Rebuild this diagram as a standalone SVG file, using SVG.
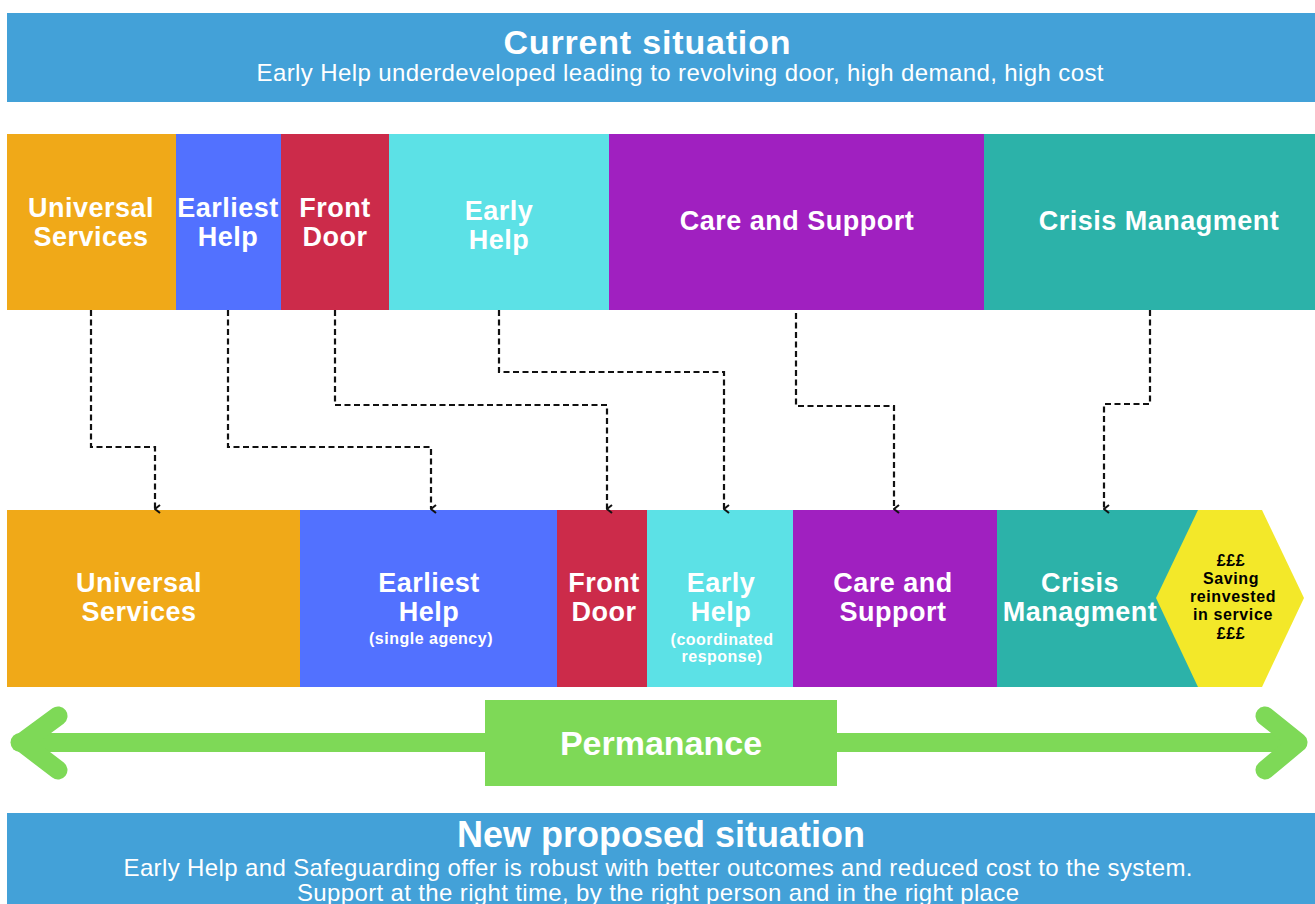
<svg xmlns="http://www.w3.org/2000/svg" width="1315" height="904" viewBox="0 0 1315 904">
<style>
text{font-family:"Liberation Sans",Arial,sans-serif;fill:#fff;text-anchor:middle}
.n{font-size:27px;font-weight:bold;letter-spacing:0.5px}
.s{font-size:16px;font-weight:bold;letter-spacing:0.5px}
.h{font-size:16px;font-weight:bold;fill:#000;letter-spacing:0.6px}
.t{font-size:36px;font-weight:bold}
.st{font-size:24px}
.c{fill:none;stroke:#111;stroke-width:2.2;stroke-dasharray:6 3.5}
.or{fill:#F0A918}.bl{fill:#5271FF}.rd{fill:#CC2B4A}.cy{fill:#5CE1E6}.pu{fill:#A020C0}.te{fill:#2CB2A9}
</style>
<defs>
<marker id="ah" viewBox="0 0 10 10" refX="5" refY="9" markerWidth="10" markerHeight="10" markerUnits="userSpaceOnUse" orient="auto-start-reverse">
<path d="M1,4 L5,9 L9,4" fill="none" stroke="#111" stroke-width="2"/>
</marker>
</defs>
<rect width="1315" height="904" fill="#fff"/>
<g id="header">
<rect x="7" y="13" width="1308" height="89" fill="#43A1D8"/>
<text class="t" x="647" y="54" style="font-size:34px" textLength="287" lengthAdjust="spacing">Current situation</text>
<text class="st" x="680" y="81" textLength="847" lengthAdjust="spacing">Early Help underdeveloped leading to revolving door, high demand, high cost</text>
</g>
<g id="cur-universal"><rect class="or" x="7" y="134" width="169" height="176"/><text class="n" x="91" y="217">Universal</text><text class="n" x="91" y="246">Services</text></g>
<g id="cur-earliest"><rect class="bl" x="176" y="134" width="105" height="176"/><text class="n" x="228" y="217">Earliest</text><text class="n" x="228" y="246">Help</text></g>
<g id="cur-front"><rect class="rd" x="281" y="134" width="108" height="176"/><text class="n" x="335" y="217">Front</text><text class="n" x="335" y="246">Door</text></g>
<g id="cur-early"><rect class="cy" x="389" y="134" width="220" height="176"/><text class="n" x="499" y="220">Early</text><text class="n" x="499" y="249">Help</text></g>
<g id="cur-care"><rect class="pu" x="609" y="134" width="375" height="176"/><text class="n" x="797" y="230">Care and Support</text></g>
<g id="cur-crisis"><rect class="te" x="984" y="134" width="331" height="176"/><text class="n" x="1159" y="230">Crisis Managment</text></g>

<g id="new-universal"><rect class="or" x="7" y="510" width="293" height="177"/><text class="n" x="139" y="592">Universal</text><text class="n" x="139" y="621">Services</text></g>
<g id="new-earliest"><rect class="bl" x="300" y="510" width="257" height="177"/><text class="n" x="429" y="592">Earliest</text><text class="n" x="429" y="621">Help</text><text class="s" x="431" y="644">(single agency)</text></g>
<g id="new-front"><rect class="rd" x="557" y="510" width="90" height="177"/><text class="n" x="604" y="592">Front</text><text class="n" x="604" y="621">Door</text></g>
<g id="new-early"><rect class="cy" x="647" y="510" width="146" height="177"/><text class="n" x="721" y="592">Early</text><text class="n" x="721" y="621">Help</text><text class="s" x="722" y="645">(coordinated</text><text class="s" x="722" y="662">response)</text></g>
<g id="new-care"><rect class="pu" x="793" y="510" width="204" height="177"/><text class="n" x="893" y="592">Care and</text><text class="n" x="893" y="621">Support</text></g>
<g id="new-crisis"><rect class="te" x="997" y="510" width="201" height="177"/><text class="n" x="1080" y="592">Crisis</text><text class="n" x="1080" y="621">Managment</text></g>
<g id="saving"><polygon points="1156,598 1198,510 1262,510 1304,598 1262,687 1198,687" fill="#F3E829"/>
<text class="h" x="1231" y="566">£££</text><text class="h" x="1231" y="584">Saving</text><text class="h" x="1233" y="602">reinvested</text><text class="h" x="1233" y="620">in service</text><text class="h" x="1231" y="639">£££</text></g>

<g id="connectors">
<path class="c" d="M91,310 V447 H155 V509" marker-end="url(#ah)"/>
<path class="c" d="M228,310 V447 H431 V509" marker-end="url(#ah)"/>
<path class="c" d="M335,310 V405 H607 V509" marker-end="url(#ah)"/>
<path class="c" d="M499,310 V372 H724 V509" marker-end="url(#ah)"/>
<path class="c" d="M796,313 V406 H894 V509" marker-end="url(#ah)"/>
<path class="c" d="M1150,310 V404 H1104 V509" marker-end="url(#ah)"/>
</g>

<g id="permanance">
<g fill="none" stroke="#7ED957" stroke-width="19" stroke-linecap="round" stroke-linejoin="round">
<line x1="20" y1="742.5" x2="1297" y2="742.5"/>
<polyline points="58,716 22,742.5 58,770"/>
<polyline points="1265,716 1298,742.5 1265,770"/>
</g>
<rect x="485" y="700" width="352" height="86" fill="#7ED957"/>
<text class="t" x="661" y="755" style="font-size:34px">Permanance</text>
</g>

<g id="footer">
<rect x="7" y="813" width="1308" height="91" fill="#43A1D8"/>
<text class="t" x="661" y="847">New proposed situation</text>
<text class="st" x="658" y="876" textLength="1069" lengthAdjust="spacing">Early Help and Safeguarding offer is robust with better outcomes and reduced cost to the system.</text>
<text class="st" x="658" y="901" textLength="722" lengthAdjust="spacing">Support at the right time, by the right person and in the right place</text>
</g>
</svg>
